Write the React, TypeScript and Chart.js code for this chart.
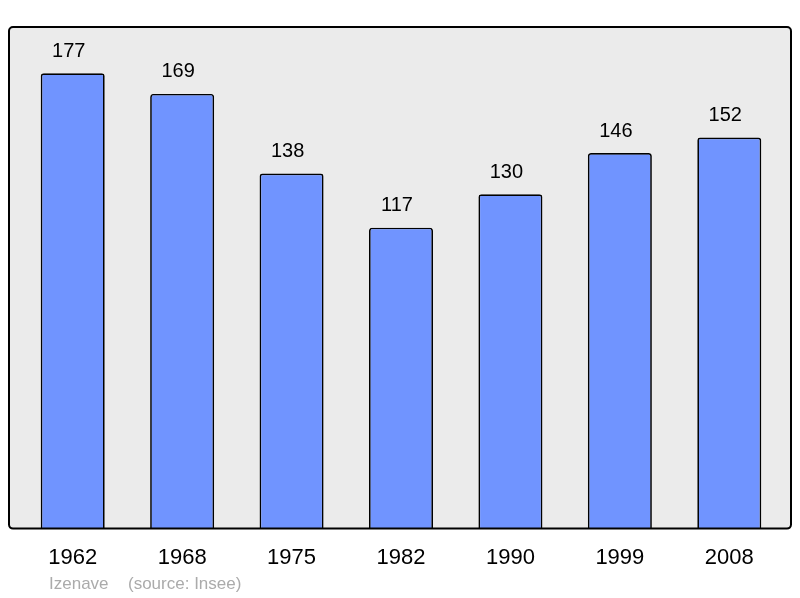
import React, { useEffect, useRef } from "react";
import { Chart, registerables } from "chart.js";

Chart.register(...registerables);

const years = ["1962", "1968", "1975", "1982", "1990", "1999", "2008"];
const population = [177, 169, 138, 117, 130, 146, 152];
const townName = "Izenave";
const sourceText = "(source: Insee)";

const FONT = "'Liberation Sans', Arial, sans-serif";

const boxPlugin = {
  id: "boxPlugin",
  beforeDatasetsDraw(chart: any) {
    const { ctx, chartArea } = chart;
    const l = chartArea.left - 9;
    const r = chartArea.right + 7;
    const t = chartArea.top;
    const b = chartArea.bottom;
    ctx.save();
    ctx.beginPath();
    (ctx as any).roundRect(l, t, r - l, b - t, 4);
    ctx.fillStyle = "#ebebeb";
    ctx.fill();
    ctx.restore();
  },
  afterDatasetsDraw(chart: any) {
    const { ctx, chartArea } = chart;
    const l = chartArea.left - 9;
    const r = chartArea.right + 7;
    const t = chartArea.top;
    const b = chartArea.bottom;
    ctx.save();
    ctx.beginPath();
    (ctx as any).roundRect(l, t, r - l, b - t, 4);
    ctx.lineWidth = 2;
    ctx.strokeStyle = "#000";
    ctx.stroke();
    // value labels
    const meta = chart.getDatasetMeta(0);
    ctx.fillStyle = "#000";
    ctx.font = `20px ${FONT}`;
    ctx.textAlign = "center";
    ctx.textBaseline = "middle";
    meta.data.forEach((bar: any, i: number) => {
      ctx.fillText(String(chart.data.datasets[0].data[i]), bar.x - 4, bar.y - 22);
    });
    // footer
    ctx.fillStyle = "#ababab";
    ctx.font = `17px ${FONT}`;
    ctx.textAlign = "left";
    ctx.fillText(townName, 49, 584);
    ctx.fillText(sourceText, 128, 584);
    ctx.restore();
  },
};

export default function App() {
  const ref = useRef<HTMLCanvasElement | null>(null);
  useEffect(() => {
    if (!ref.current) return;
    const chart = new Chart(ref.current, {
      type: "bar",
      data: {
        labels: years,
        datasets: [
          {
            data: population,
            backgroundColor: "#7094ff",
            borderColor: "#000",
            borderWidth: 1.7,
            borderRadius: { topLeft: 3, topRight: 3, bottomLeft: 0, bottomRight: 0 },
            borderSkipped: "bottom",
            barPercentage: 0.585,
            categoryPercentage: 1,
          },
        ],
      },
      options: {
        responsive: false,
        animation: false,
        layout: { padding: { left: 18, right: 16, top: 27, bottom: 11 } },
        plugins: { legend: { display: false }, tooltip: { enabled: false } },
        scales: {
          x: {
            offset: true,
            grid: { display: false, drawTicks: false },
            border: { display: false },
            ticks: { color: "#000", font: { family: FONT, size: 22 }, padding: 16 },
          },
          y: { display: false, min: 0, max: 195 },
        },
      },
      plugins: [boxPlugin],
    });
    return () => chart.destroy();
  }, []);
  return (
    <div style={{ position: "absolute", left: 0, top: 0, width: 800, height: 598 }}>
      <canvas ref={ref} width={800} height={598} />
    </div>
  );
}
